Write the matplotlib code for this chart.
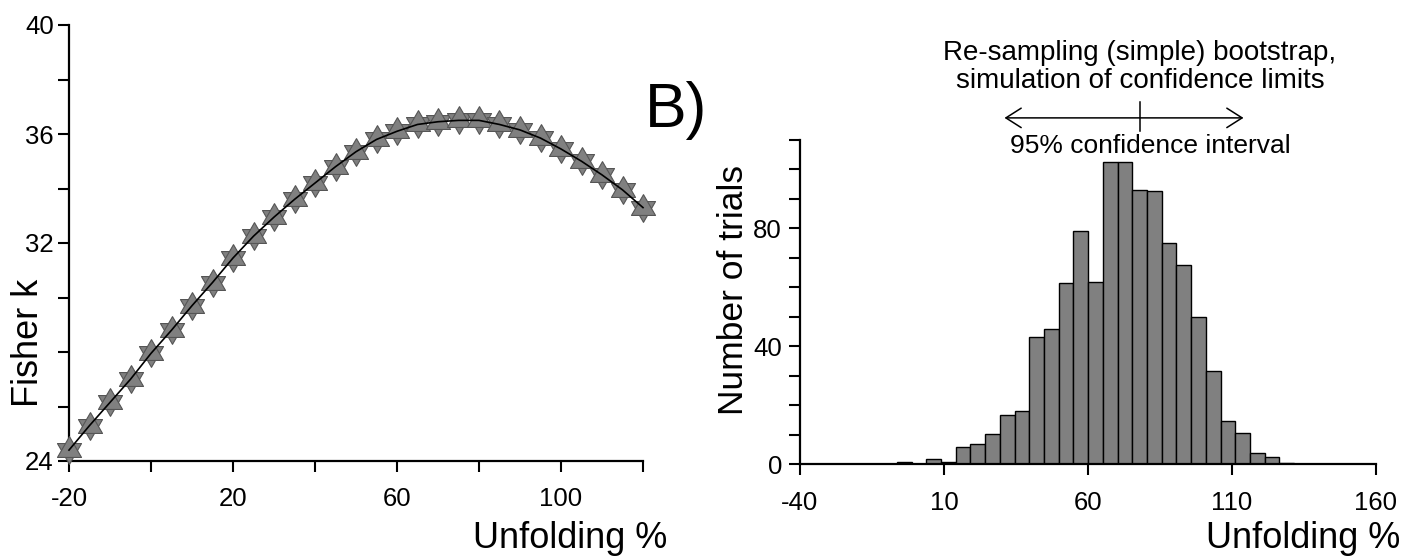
import numpy as np
import matplotlib
matplotlib.use('Agg')
import matplotlib.pyplot as plt

plt.rcParams['font.family'] = ['Liberation Sans', 'DejaVu Sans']
plt.rcParams['axes.unicode_minus'] = False

W, H = 1420, 559

# A) Fisher k vs unfolding (step-wise unfolding test)
unfolding = [-20, -15, -10, -5, 0, 5, 10, 15, 20, 25, 30, 35, 40, 45, 50,
             55, 60, 65, 70, 75, 80, 85, 90, 95, 100, 105, 110, 115, 120]
fisher_k = [24.4, 25.3, 26.15, 27.0, 27.95, 28.8, 29.7, 30.55, 31.45, 32.25,
            32.95, 33.6, 34.2, 34.8, 35.35, 35.8, 36.1, 36.35, 36.45, 36.5,
            36.5, 36.35, 36.15, 35.85, 35.45, 35.0, 34.5, 33.95, 33.3]

# B) bootstrap histogram
bin_start = -6.37
bin_width = 5.11
trials = [0.7, 0, 1.9, 0.7, 5.9, 6.8, 10.2, 16.7, 18.1, 43.2, 45.9, 61.4,
          79.0, 62.0, 102.7, 102.7, 93.2, 92.6, 74.9, 67.5, 49.8, 31.6,
          14.7, 10.7, 3.9, 2.4, 0.5]
ci_low, ci_mid, ci_high = 31, 78, 114

left_xticks = [-20, 0, 20, 40, 60, 80, 100, 120]
left_xlabels = ['-20', '', '20', '', '60', '', '100', '']
left_yticks = [24, 26, 28, 30, 32, 34, 36, 38, 40]
left_ylabels = ['24', '', '', '', '32', '', '36', '', '40']
right_xticks = [-40, 10, 60, 110, 160]
right_yticks = [0, 10, 20, 30, 40, 50, 60, 70, 80, 90, 100, 110]
right_ylabels = ['0', '', '', '', '40', '', '', '', '80', '', '', '']


def fx(px):
    return px / W


def fy(py):
    return 1 - py / H


fig = plt.figure(figsize=(W / 100, H / 100), dpi=100)

axL = fig.add_axes([fx(69), fy(461), 574 / W, 436 / H])
axR = fig.add_axes([fx(800), fy(464.3), 576 / W, 324.3 / H])

for ax in (axL, axR):
    for s in ('top', 'right'):
        ax.spines[s].set_visible(False)
    for s in ('left', 'bottom'):
        ax.spines[s].set_linewidth(1.6)
    ax.tick_params(direction='out', length=8, width=1.5, labelsize=18.5)
    ax.tick_params(axis='x', pad=11)
    ax.set_facecolor('none')

# star of David = two centred triangles
tri_up = [(0, 1), (-0.866, -0.5), (0.866, -0.5), (0, 1)]
tri_dn = [(0, -1), (-0.866, 0.5), (0.866, 0.5), (0, -1)]
for m in (tri_dn, tri_up):
    axL.plot(unfolding, fisher_k, ls='none', marker=m, ms=20,
             mfc='#808080', mec='#555555', mew=0.8, clip_on=False, zorder=3)
axL.plot(unfolding, fisher_k, color='black', lw=1.2, zorder=4, clip_on=False)

axL.set_xlim(-20, 120)
axL.set_ylim(24, 40)
axL.set_xticks(left_xticks)
axL.set_xticklabels(left_xlabels)
axL.set_yticks(left_yticks)
axL.set_yticklabels(left_ylabels)
axL.tick_params(axis='y', pad=3)

edges = bin_start + bin_width * np.arange(len(trials))
axR.bar(edges, trials, width=bin_width, align='edge', color='#808080',
        edgecolor='black', linewidth=1.0, zorder=2)
axR.set_xlim(-40, 160)
axR.set_ylim(0, 110)
axR.set_xticks(right_xticks)
axR.set_yticks(right_yticks)
axR.set_yticklabels(right_ylabels)
axR.tick_params(axis='y', pad=5)

# confidence interval arrow
axR.annotate('', xy=(ci_low, 117.5), xytext=(ci_high, 117.5),
             arrowprops=dict(arrowstyle='<->,head_length=1.1,head_width=0.7',
                             mutation_scale=10, lw=1.1, color='black',
                             shrinkA=0, shrinkB=0),
             annotation_clip=False)
axR.plot([ci_mid, ci_mid], [113, 122.8], color='black', lw=1.1, clip_on=False)

# texts
fig.text(fx(38), fy(343), 'Fisher k', rotation=90, rotation_mode='anchor',
         ha='center', va='baseline', fontsize=26)
fig.text(fx(743), fy(290), 'Number of trials', rotation=90, rotation_mode='anchor',
         ha='center', va='baseline', fontsize=25.5)
fig.text(fx(667), fy(548), 'Unfolding %', ha='right', va='baseline', fontsize=26)
fig.text(fx(1400), fy(548), 'Unfolding %', ha='right', va='baseline', fontsize=26)
fig.text(fx(645), fy(127), 'B)', ha='left', va='baseline', fontsize=45)
fig.text(fx(1140), fy(60), 'Re-sampling (simple) bootstrap,', ha='center',
         va='baseline', fontsize=20)
fig.text(fx(1140), fy(88), 'simulation of confidence limits', ha='center',
         va='baseline', fontsize=20)
fig.text(fx(1150), fy(153), '95% confidence interval', ha='center',
         va='baseline', fontsize=19)

fig.savefig('out.png', dpi=100)
